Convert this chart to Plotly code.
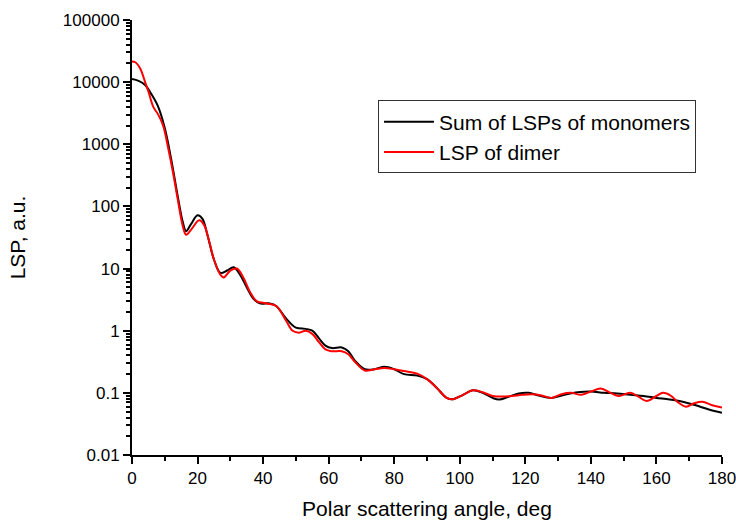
import plotly.graph_objects as go

# Polar scattering angle (deg) and LSP values
angle_mono = [0, 2, 4, 6, 8, 10, 12, 14, 15.5, 16.5, 18, 20, 21.5, 23, 25, 27, 29, 31, 33, 35,
              37, 39, 42, 44, 47, 50, 53, 55, 57, 59, 61, 64, 66, 68, 71, 74, 77, 80, 83, 87,
              90, 93, 96, 98, 101, 104, 107, 110, 112, 115, 118, 121, 124, 128, 132, 136, 140,
              144, 148, 152, 156, 160, 164, 168, 172, 176, 180]
lsp_mono = [11200, 10500, 9000, 6300, 4000, 1820, 560, 141, 56, 40, 52, 72, 63, 35, 14, 8.5,
            9.3, 10.5, 7.9, 5.0, 3.3, 2.75, 2.75, 2.5, 1.58, 1.12, 1.07, 1.0, 0.76, 0.575, 0.525,
            0.537, 0.468, 0.331, 0.24, 0.24, 0.263, 0.24, 0.20, 0.19, 0.166, 0.12, 0.083, 0.079,
            0.093, 0.11, 0.10, 0.083, 0.078, 0.087, 0.098, 0.10, 0.091, 0.083, 0.093, 0.102,
            0.105, 0.10, 0.098, 0.093, 0.089, 0.083, 0.078, 0.072, 0.063, 0.054, 0.048]

angle_dimer = [0, 1, 2.5, 4, 5, 6.5, 8, 9.5, 11, 12.5, 14, 15.5, 16.5, 18, 20.5, 22, 23.5, 25,
               27, 28, 30, 32, 34, 36, 38, 41, 44, 47, 49, 51, 53, 55, 57, 59, 61, 64, 66, 68,
               71, 74, 77, 80, 83, 87, 90, 93, 96, 98, 101, 104, 107, 110, 113, 116, 119, 122,
               125, 128, 131, 134, 137, 140, 143, 146, 148.5, 152, 154.5, 157, 160, 162, 164.5,
               166.5, 169, 171.5, 174, 177, 180]
lsp_dimer = [21400, 20900, 16600, 10000, 7100, 4000, 3000, 2000, 890, 355, 126, 48, 35, 42, 60,
             50, 28, 14, 7.9, 7.2, 9.3, 10, 7.1, 4.2, 3.0, 2.75, 2.5, 1.45, 1.0, 0.93, 1.0, 0.89,
             0.66, 0.50, 0.468, 0.468, 0.417, 0.316, 0.229, 0.24, 0.251, 0.24, 0.224, 0.204,
             0.166, 0.12, 0.083, 0.079, 0.093, 0.11, 0.102, 0.089, 0.087, 0.089, 0.093, 0.095,
             0.091, 0.083, 0.095, 0.10, 0.093, 0.105, 0.117, 0.10, 0.089, 0.10, 0.087, 0.074,
             0.089, 0.10, 0.089, 0.071, 0.060, 0.068, 0.072, 0.063, 0.058]

y_tick_vals = [0.01, 0.1, 1, 10, 100, 1000, 10000, 100000]
y_tick_text = ["0.01", "0.1", "1", "10", "100", "1000", "10000", "100000"]
x_tick_vals = [0, 20, 40, 60, 80, 100, 120, 140, 160, 180]

FONT = "Arial, 'Liberation Sans', sans-serif"

fig = go.Figure()
fig.add_trace(go.Scatter(x=angle_mono, y=lsp_mono, mode="lines",
                         line=dict(color="black", width=2, shape="spline", smoothing=1.0),
                         name="Sum of LSPs of monomers"))
fig.add_trace(go.Scatter(x=angle_dimer, y=lsp_dimer, mode="lines",
                         line=dict(color="#ff0000", width=2, shape="spline", smoothing=1.0),
                         name="LSP of dimer"))

fig.update_layout(
    width=736, height=525,
    margin=dict(l=132, r=14, t=20, b=70),
    paper_bgcolor="white", plot_bgcolor="white",
    font=dict(family=FONT, color="black", size=16),
    showlegend=True,
    legend=dict(x=0.417, y=0.815, xanchor="left", yanchor="top",
                bordercolor="#333", borderwidth=1, bgcolor="white",
                font=dict(size=21, family=FONT), tracegroupgap=0,
                itemwidth=50),
)

fig.update_xaxes(
    range=[0, 180], tickvals=x_tick_vals, automargin=False,
    ticklabeloverflow="allow",
    showgrid=False, zeroline=False,
    showline=True, linecolor="black", linewidth=2,
    ticks="outside", ticklen=7, tickwidth=1.5, tickcolor="black",
    minor=dict(dtick=10, tick0=0, ticks="outside", ticklen=4, tickwidth=1.5, tickcolor="black", showgrid=False),
    tickfont=dict(size=17),
    title=dict(text="Polar scattering angle, deg", font=dict(size=21), standoff=14),
)
fig.update_yaxes(
    type="log", range=[-2, 5], automargin=False,
    ticklabeloverflow="allow",
    tickvals=y_tick_vals, ticktext=y_tick_text,
    showgrid=False, zeroline=False,
    showline=True, linecolor="black", linewidth=2,
    ticks="outside", ticklen=7, tickwidth=1.5, tickcolor="black",
    minor=dict(dtick="D1", ticks="outside", ticklen=4, tickwidth=1.5, tickcolor="black", showgrid=False),
    tickfont=dict(size=17),
    title=dict(text="LSP, a.u.", font=dict(size=21), standoff=32),
)

# remove the default 8px page margin so the 736x525 figure fills the window
fig.write_html("out.html",
               config={"displayModeBar": False},
               post_script="document.body.style.margin='0';document.body.style.overflow='hidden';")
